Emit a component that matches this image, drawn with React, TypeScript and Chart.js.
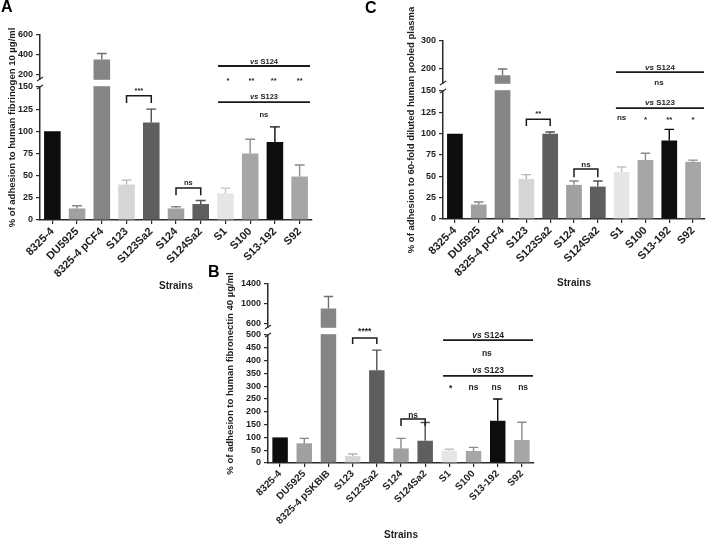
import React, { useEffect, useRef } from 'react';
import { Chart, registerables, LinearScale } from 'chart.js';

// ---------------- data ----------------
const strainsAC = ['8325-4', 'DU5925', '8325-4 pCF4', 'S123', 'S123Sa2', 'S124', 'S124Sa2', 'S1', 'S100', 'S13-192', 'S92'];
const strainsB = ['8325-4', 'DU5925', '8325-4 pSKBIB', 'S123', 'S123Sa2', 'S124', 'S124Sa2', 'S1', 'S100', 'S13-192', 'S92'];

const fibrinogenMean = [100, 13, 355, 40, 110, 13, 18, 30, 75, 88, 49];
const fibrinogenErrTop = [100, 16, 415, 45, 125, 15, 22, 36, 91, 105, 62];

const fibronectinMean = [100, 77, 910, 27, 362, 57, 87, 48, 47, 165, 90];
const fibronectinErrTop = [100, 96, 1150, 35, 441, 96, 158, 54, 61, 250, 159];

const plasmaMean = [100, 17, 178, 47, 100, 40, 38, 55, 69, 92, 67];
const plasmaErrTop = [100, 20, 200, 52, 102, 44.5, 44.5, 61, 77, 105, 69];

const ticksA = [0, 25, 50, 75, 100, 125, 150, 200, 400, 600];
const ticksB = [0, 50, 100, 150, 200, 250, 300, 350, 400, 450, 500, 600, 1000, 1400];
const ticksC = [0, 25, 50, 75, 100, 125, 150, 200, 300];

const barColors = ['#0d0d0d', '#a0a0a0', '#858585', '#d6d6d6', '#5e5e5e', '#a0a0a0', '#5e5e5e', '#e6e6e6', '#a6a6a6', '#0d0d0d', '#a6a6a6'];

// ---------------- styling ----------------
const FAMILY = '"Liberation Sans", Arial, Helvetica, sans-serif';
const AXIS = '#2b2b2b';
const TEXT = '#1e1e1e';

type Seg = { min: number; max: number; px: number };
type Bracket = { a: number; b: number; y: number; leg: number; text: string; textY: number };
type CompLine = { x0: number; x1: number; y: number; label: string; labelY: number };
type Mark = { x: number; y: number; text: string };

interface PanelCfg {
  letter: string;
  labels: string[];
  means: number[];
  errs: number[];
  colors: string[];
  segments: Seg[];
  gapPx: number;
  ticks: number[];
  yTitle: string;
  box: { x: number; y: number; w: number; h: number };
  area: { left: number; top: number; right: number; bottom: number };
  yTitleX: number;
  letterPos: { x: number; y: number };
  strainsY: number;
  barPct: number;
  annFont: number;
  xFont: number;
  yFont: number;
  brackets: Bracket[];
  lines: CompLine[];
  marks: Mark[];
}

const panels: PanelCfg[] = [
  {
    letter: 'A',
    labels: strainsAC,
    means: fibrinogenMean,
    errs: fibrinogenErrTop,
    colors: barColors,
    segments: [{ min: 0, max: 150, px: 133 }, { min: 160, max: 600, px: 44 }],
    gapPx: 8,
    ticks: ticksA,
    yTitle: '% of adhesion to human fibrinogen 10 \u00b5g/ml',
    box: { x: 0, y: 0, w: 330, h: 300 },
    area: { left: 40, top: 35, right: 312, bottom: 220 },
    yTitleX: 12,
    letterPos: { x: 1, y: 0 },
    strainsY: 286,
    barPct: 0.67,
    annFont: 7.5,
    xFont: 11,
    yFont: 9,
    brackets: [
      { a: 3, b: 4, y: 140, leg: 132, text: '***', textY: 146 },
      { a: 5, b: 6, y: 36, leg: 28, text: 'ns', textY: 42 },
    ],
    lines: [
      { x0: 6.7, x1: 10.42, y: 290, label: 'S124', labelY: 330 },
      { x0: 6.7, x1: 10.42, y: 133, label: 'S123', labelY: 139 },
    ],
    marks: [
      { x: 7.1, y: 157, text: '*' },
      { x: 8.05, y: 157, text: '**' },
      { x: 8.95, y: 157, text: '**' },
      { x: 10, y: 157, text: '**' },
      { x: 8.55, y: 118, text: 'ns' },
    ],
  },
  {
    letter: 'B',
    labels: strainsB,
    means: fibronectinMean,
    errs: fibronectinErrTop,
    colors: barColors,
    segments: [{ min: 0, max: 500, px: 128 }, { min: 540, max: 1400, px: 43 }],
    gapPx: 8,
    ticks: ticksB,
    yTitle: '% of adhesion to human fibronectin 40 \u00b5g/ml',
    box: { x: 195, y: 255, w: 345, h: 286 },
    area: { left: 73, top: 29, right: 339, bottom: 208 },
    yTitleX: 35,
    letterPos: { x: 13, y: 10 },
    strainsY: 280,
    barPct: 0.64,
    annFont: 8.5,
    xFont: 10,
    yFont: 9,
    brackets: [
      { a: 3, b: 4, y: 488, leg: 465, text: '****', textY: 515 },
      { a: 5, b: 6, y: 172, leg: 145, text: 'ns', textY: 186 },
    ],
    lines: [
      { x0: 6.74, x1: 10.46, y: 480, label: 'S124', labelY: 496 },
      { x0: 6.74, x1: 10.46, y: 340, label: 'S123', labelY: 359 },
    ],
    marks: [
      { x: 7.05, y: 290, text: '*' },
      { x: 8, y: 293, text: 'ns' },
      { x: 8.95, y: 293, text: 'ns' },
      { x: 10.05, y: 293, text: 'ns' },
      { x: 8.55, y: 426, text: 'ns' },
    ],
  },
  {
    letter: 'C',
    labels: strainsAC,
    means: plasmaMean,
    errs: plasmaErrTop,
    colors: barColors,
    segments: [{ min: 0, max: 150, px: 128 }, { min: 150, max: 300, px: 42 }],
    gapPx: 8,
    ticks: ticksC,
    yTitle: '% of adhesion to 60-fold diluted human pooled plasma',
    box: { x: 360, y: 0, w: 353, h: 300 },
    area: { left: 83, top: 41, right: 345, bottom: 219 },
    yTitleX: 51,
    letterPos: { x: 5, y: 1 },
    strainsY: 283,
    barPct: 0.66,
    annFont: 8,
    xFont: 11,
    yFont: 9,
    brackets: [
      { a: 3, b: 4, y: 117, leg: 109, text: '**', textY: 123 },
      { a: 5, b: 6, y: 58.6, leg: 49, text: 'ns', textY: 63 },
    ],
    lines: [
      { x0: 6.76, x1: 10.46, y: 189, label: 'S124', labelY: 203.6 },
      { x0: 6.76, x1: 10.46, y: 130, label: 'S123', labelY: 136 },
    ],
    marks: [
      { x: 7, y: 118.4, text: 'ns' },
      { x: 8, y: 116, text: '*' },
      { x: 9, y: 116, text: '**' },
      { x: 10, y: 116, text: '*' },
      { x: 8.57, y: 151, text: 'ns' },
    ],
  },
];

const brokenRegistry: Record<string, { segments: Seg[]; gapPx: number; ticks: number[] }> = {};
panels.forEach((p) => {
  brokenRegistry[p.letter] = { segments: p.segments, gapPx: p.gapPx, ticks: p.ticks };
});

// ---------------- broken (piecewise) scale ----------------
class BrokenScale extends (LinearScale as any) {
  static id = 'broken';
  static defaults = {};

  _cfg() {
    return brokenRegistry[(this as any).options.brokenKey];
  }
  determineDataLimits() {
    const segs = this._cfg().segments;
    (this as any).min = segs[0].min;
    (this as any).max = segs[segs.length - 1].max;
  }
  buildTicks() {
    return this._cfg().ticks.map((v: number) => ({ value: v }));
  }
  _layoutSegs() {
    const { segments, gapPx } = this._cfg();
    const self: any = this;
    const total = segments.reduce((s: number, g: Seg) => s + g.px, 0);
    const avail = self.bottom - self.top - gapPx * (segments.length - 1);
    const out: { min: number; max: number; y0: number; y1: number }[] = [];
    let y = self.bottom;
    segments.forEach((s: Seg, i: number) => {
      if (i > 0) y -= gapPx;
      const len = (avail * s.px) / total;
      out.push({ min: s.min, max: s.max, y0: y, y1: y - len });
      y -= len;
    });
    return out;
  }
  getPixelForValue(value: number) {
    const L = this._layoutSegs();
    for (let i = 0; i < L.length; i++) {
      const s = L[i];
      if (i > 0 && value < s.min) {
        const p = L[i - 1];
        const r = s.min - p.max;
        const t = r > 0 ? (value - p.max) / r : 0;
        return p.y1 - t * (p.y1 - s.y0);
      }
      if (value <= s.max || i === L.length - 1) {
        const t = (value - s.min) / (s.max - s.min);
        return s.y0 + t * (s.y1 - s.y0);
      }
    }
    return (this as any).bottom;
  }
  getValueForPixel(pixel: number) {
    const L = this._layoutSegs();
    for (const s of L) {
      if (pixel >= s.y1) return s.min + ((s.y0 - pixel) / (s.y0 - s.y1)) * (s.max - s.min);
    }
    const s = L[L.length - 1];
    return s.min + ((s.y0 - pixel) / (s.y0 - s.y1)) * (s.max - s.min);
  }
  getGaps() {
    const L = this._layoutSegs();
    return L.slice(1).map((s, i) => ({ top: s.y0, bottom: L[i].y1 }));
  }
}

Chart.register(...registerables, BrokenScale as any);

function darker(hex: string, f: number) {
  const n = parseInt(hex.slice(1), 16);
  const r = Math.round(((n >> 16) & 255) * f);
  const g = Math.round(((n >> 8) & 255) * f);
  const b = Math.round((n & 255) * f);
  return `rgb(${r},${g},${b})`;
}

function makePlugin(p: PanelCfg) {
  return {
    id: 'panelDecor' + p.letter,
    afterDraw(chart: any) {
      const ctx: CanvasRenderingContext2D = chart.ctx;
      const xs = chart.scales.x;
      const ys = chart.scales.y;
      const ca = chart.chartArea;
      const meta = chart.getDatasetMeta(0);
      ctx.save();

      // error bars (upper only)
      meta.data.forEach((bar: any, i: number) => {
        const top = p.errs[i];
        if (!(top > p.means[i])) return;
        const x = bar.x;
        const y0 = ys.getPixelForValue(p.means[i]);
        const y1 = ys.getPixelForValue(top);
        const w = bar.width * 0.6;
        ctx.strokeStyle = darker(p.colors[i], 0.85);
        ctx.lineWidth = 1.4;
        ctx.beginPath();
        ctx.moveTo(x, y0);
        ctx.lineTo(x, y1);
        ctx.moveTo(x - w / 2, y1);
        ctx.lineTo(x + w / 2, y1);
        ctx.stroke();
      });

      // axis breaks
      const gaps = ys.getGaps();
      gaps.forEach((g: any) => {
        ctx.fillStyle = '#ffffff';
        ctx.fillRect(ca.left - 2, g.top + 0.8, ca.right - ca.left + 4, g.bottom - g.top - 1.6);
        ctx.strokeStyle = AXIS;
        ctx.lineWidth = 1.2;
        ctx.beginPath();
        const x = ca.left;
        ctx.moveTo(x - 3, g.bottom + 2);
        ctx.lineTo(x + 3, g.bottom - 2);
        ctx.moveTo(x - 3, g.top + 2);
        ctx.lineTo(x + 3, g.top - 2);
        ctx.stroke();
      });

      const c0 = xs.getPixelForValue(0);
      const step = xs.getPixelForValue(1) - c0;
      const ux = (u: number) => c0 + u * step;
      const fs = p.annFont;

      // brackets
      p.brackets.forEach((b) => {
        const xa = xs.getPixelForValue(b.a);
        const xb = xs.getPixelForValue(b.b);
        const y = ys.getPixelForValue(b.y);
        const yl = ys.getPixelForValue(b.leg);
        ctx.strokeStyle = '#1a1a1a';
        ctx.lineWidth = 1.5;
        ctx.beginPath();
        ctx.moveTo(xa, yl);
        ctx.lineTo(xa, y);
        ctx.lineTo(xb, y);
        ctx.lineTo(xb, yl);
        ctx.stroke();
        ctx.fillStyle = TEXT;
        ctx.font = `bold ${fs}px ${FAMILY}`;
        ctx.textAlign = 'center';
        ctx.textBaseline = 'middle';
        ctx.fillText(b.text, (xa + xb) / 2, ys.getPixelForValue(b.textY));
      });

      // comparison lines
      p.lines.forEach((l) => {
        const x0 = ux(l.x0);
        const x1 = ux(l.x1);
        const y = ys.getPixelForValue(l.y);
        ctx.strokeStyle = '#1a1a1a';
        ctx.lineWidth = 1.8;
        ctx.beginPath();
        ctx.moveTo(x0, y);
        ctx.lineTo(x1, y);
        ctx.stroke();
        ctx.fillStyle = TEXT;
        ctx.textBaseline = 'middle';
        ctx.textAlign = 'left';
        ctx.font = `italic bold ${fs}px ${FAMILY}`;
        const w1 = ctx.measureText('vs').width;
        ctx.font = `bold ${fs}px ${FAMILY}`;
        const w2 = ctx.measureText(' ' + l.label).width;
        const sx = (x0 + x1) / 2 - (w1 + w2) / 2;
        const ly = ys.getPixelForValue(l.labelY);
        ctx.font = `italic bold ${fs}px ${FAMILY}`;
        ctx.fillText('vs', sx, ly);
        ctx.font = `bold ${fs}px ${FAMILY}`;
        ctx.fillText(' ' + l.label, sx + w1, ly);
      });

      // significance marks
      p.marks.forEach((m) => {
        ctx.fillStyle = TEXT;
        ctx.font = `bold ${fs}px ${FAMILY}`;
        ctx.textAlign = 'center';
        ctx.textBaseline = 'middle';
        ctx.fillText(m.text, ux(m.x), ys.getPixelForValue(m.y));
      });

      // y title
      ctx.save();
      ctx.translate(p.yTitleX, (ca.top + ca.bottom) / 2);
      ctx.rotate(-Math.PI / 2);
      ctx.fillStyle = TEXT;
      ctx.font = `bold 9.5px ${FAMILY}`;
      ctx.textAlign = 'center';
      ctx.textBaseline = 'middle';
      ctx.fillText(p.yTitle, 0, 0);
      ctx.restore();

      // x title
      ctx.fillStyle = TEXT;
      ctx.font = `bold 10px ${FAMILY}`;
      ctx.textAlign = 'center';
      ctx.textBaseline = 'middle';
      ctx.fillText('Strains', (ca.left + ca.right) / 2, p.strainsY);

      // panel letter
      ctx.fillStyle = '#000';
      ctx.font = `bold 16px ${FAMILY}`;
      ctx.textAlign = 'left';
      ctx.textBaseline = 'top';
      ctx.fillText(p.letter, p.letterPos.x, p.letterPos.y);

      ctx.restore();
    },
  };
}

function makeConfig(p: PanelCfg): any {
  const padRight = p.box.w - p.area.right;
  return {
    type: 'bar',
    data: {
      labels: p.labels,
      datasets: [
        {
          data: p.means,
          backgroundColor: p.colors,
          borderWidth: 0,
          barPercentage: p.barPct,
          categoryPercentage: 1,
        },
      ],
    },
    options: {
      animation: false,
      responsive: false,
      maintainAspectRatio: false,
      events: [],
      layout: { padding: { left: 0, top: p.area.top, right: padRight, bottom: 0 } },
      plugins: { legend: { display: false }, tooltip: { enabled: false }, title: { display: false } },
      scales: {
        x: {
          type: 'category',
          offset: true,
          grid: { offset: false, drawOnChartArea: false, drawTicks: true, tickLength: 4, color: AXIS, lineWidth: 1.2 },
          border: { display: true, color: AXIS, width: 1.5 },
          ticks: {
            autoSkip: false,
            minRotation: 45,
            maxRotation: 45,
            padding: 1,
            color: TEXT,
            font: { family: FAMILY, size: p.xFont, weight: 'bold' },
          },
          afterFit: (s: any) => {
            s.height = p.box.h - p.area.bottom;
          },
        },
        y: {
          type: 'broken',
          brokenKey: p.letter,
          position: 'left',
          grid: { drawOnChartArea: false, drawTicks: true, tickLength: 4, color: AXIS, lineWidth: 1.2 },
          border: { display: true, color: AXIS, width: 1.5 },
          ticks: {
            autoSkip: false,
            padding: 3,
            color: TEXT,
            font: { family: FAMILY, size: p.yFont, weight: 'bold' },
            callback: (v: any) => String(v),
          },
          afterFit: (s: any) => {
            s.width = p.area.left;
          },
        },
      },
    },
    plugins: [makePlugin(p)],
  };
}

function Panel({ cfg }: { cfg: PanelCfg }) {
  const ref = useRef<HTMLCanvasElement>(null);
  useEffect(() => {
    const chart = new Chart(ref.current as HTMLCanvasElement, makeConfig(cfg));
    return () => chart.destroy();
  }, [cfg]);
  return (
    <canvas
      ref={ref}
      width={cfg.box.w}
      height={cfg.box.h}
      style={{ position: 'absolute', left: cfg.box.x, top: cfg.box.y, width: cfg.box.w, height: cfg.box.h }}
    />
  );
}

export default function App() {
  return (
    <div style={{ position: 'absolute', left: 0, top: 0, width: 713, height: 541, background: '#ffffff', overflow: 'hidden' }}>
      {panels.map((p) => (
        <Panel key={p.letter} cfg={p} />
      ))}
    </div>
  );
}
